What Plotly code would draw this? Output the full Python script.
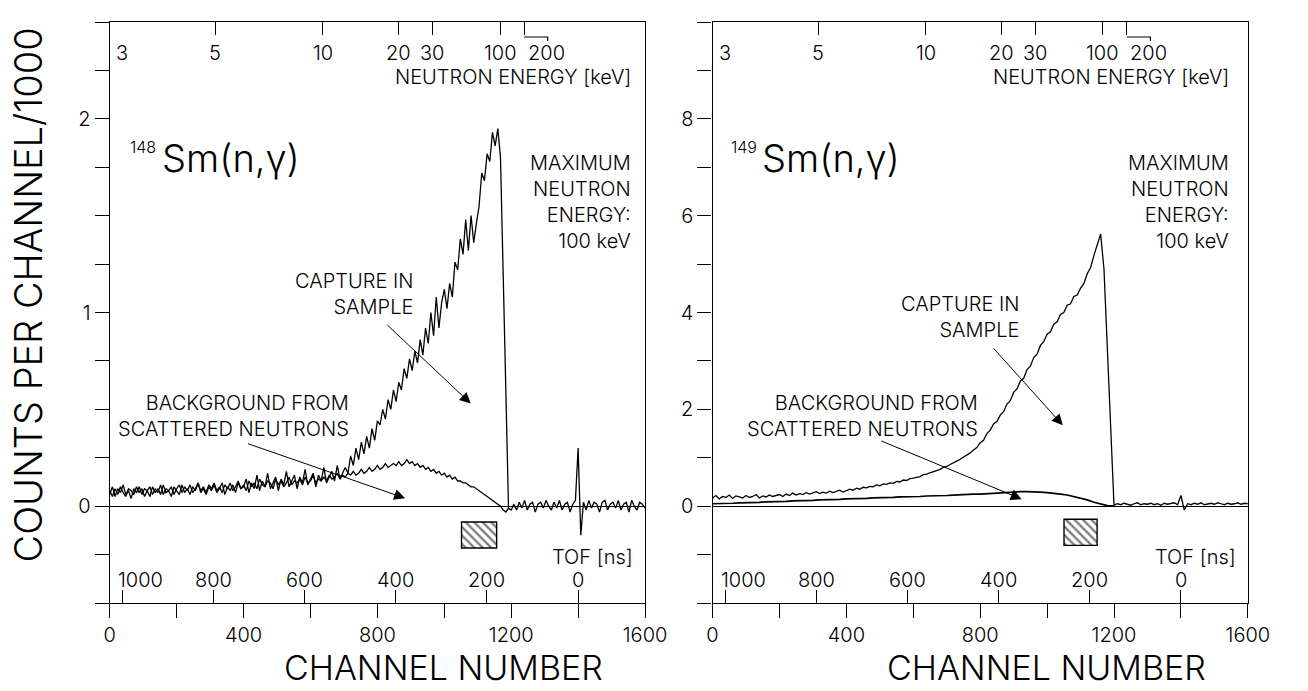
import numpy as np
import plotly.graph_objects as go

W, H = 1308, 691
FONT = "Inter"

# ---------------- data (counts per channel / 1000) ----------------
LEFT_STEP = 8          # channel spacing of the left-panel series
RIGHT_CAP_STEP = 10    # channel spacing of right capture series
RIGHT_BG_STEP = 20     # channel spacing of right background series

# 148Sm : capture in sample, channels 0..1192
left_capture = [
    0.06, 0.10, 0.05, 0.09, 0.07, 0.11, 0.06, 0.08, 0.04, 0.09,
    0.07, 0.10, 0.06, 0.09, 0.08, 0.05, 0.10, 0.07, 0.09, 0.06,
    0.11, 0.07, 0.08, 0.05, 0.10, 0.08, 0.06, 0.11, 0.07, 0.09,
    0.06, 0.10, 0.08, 0.12, 0.07, 0.09, 0.06, 0.10, 0.08, 0.11,
    0.07, 0.09, 0.12, 0.06, 0.10, 0.08, 0.11, 0.07, 0.12, 0.09,
    0.10, 0.14, 0.07, 0.12, 0.09, 0.16, 0.08, 0.13, 0.10, 0.17,
    0.09, 0.12, 0.15, 0.08, 0.14, 0.11, 0.18, 0.10, 0.13, 0.16,
    0.09, 0.15, 0.12, 0.19, 0.11, 0.14, 0.17, 0.10, 0.16, 0.13,
    0.20, 0.12, 0.15, 0.18, 0.13, 0.21, 0.14, 0.17,
    0.20, 0.17, 0.26, 0.21, 0.30, 0.24, 0.33, 0.27, 0.36, 0.30, 0.40, 0.34, 0.44,
    0.42, 0.50, 0.45, 0.55, 0.50, 0.60, 0.54, 0.64, 0.60, 0.71, 0.66, 0.76,
    0.70, 0.80, 0.74, 0.86, 0.78, 0.92, 0.84, 1.00, 0.88, 1.08, 0.92, 1.05, 1.12,
    1.02, 1.15, 1.08, 1.26, 1.22, 1.38, 1.30, 1.48, 1.32, 1.50, 1.36, 1.46,
    1.55, 1.72, 1.68, 1.82, 1.78, 1.93, 1.86, 1.95,
    1.80, 1.20, 0.55, -0.01,
]

# 148Sm : background from scattered neutrons, channels 0..1600
left_background = [
    0.08, 0.05, 0.09, 0.06, 0.10, 0.07, 0.05, 0.09, 0.08, 0.06,
    0.10, 0.07, 0.09, 0.05, 0.08, 0.10, 0.06, 0.09, 0.07, 0.11,
    0.06, 0.09, 0.08, 0.10, 0.06, 0.09, 0.11, 0.07, 0.10, 0.08,
    0.11, 0.07, 0.09, 0.12, 0.08, 0.10, 0.07, 0.11, 0.09, 0.12,
    0.08, 0.10, 0.07, 0.11, 0.09, 0.12, 0.08, 0.10, 0.13, 0.09,
    0.11, 0.08, 0.13, 0.10, 0.12, 0.09, 0.14, 0.11, 0.10, 0.13,
    0.12, 0.09, 0.14, 0.11, 0.13, 0.10, 0.12, 0.15, 0.11, 0.13,
    0.12, 0.14, 0.11, 0.15, 0.12, 0.13, 0.16, 0.12, 0.14, 0.13,
    0.15, 0.13, 0.16, 0.14, 0.15, 0.17, 0.14, 0.16,
    0.15, 0.17, 0.16, 0.18, 0.16, 0.17, 0.19, 0.17, 0.18, 0.20,
    0.18, 0.19, 0.21, 0.19, 0.20, 0.22, 0.20, 0.21, 0.22, 0.21,
    0.23, 0.21, 0.22, 0.24, 0.22,
    0.23, 0.21, 0.22, 0.20, 0.21, 0.19, 0.20, 0.18, 0.19, 0.17,
    0.18, 0.16, 0.17, 0.15, 0.16, 0.14, 0.15, 0.13, 0.13, 0.12,
    0.12, 0.11, 0.10, 0.10, 0.09,
    0.08, 0.07, 0.06, 0.05, 0.04, 0.03, 0.02, 0.01, 0.00, -0.02,
    -0.03, -0.01, -0.02,
    0.01, -0.02, 0.02, -0.01, 0.03, -0.02, 0.01, 0.02, -0.03, 0.01,
    0.02, -0.01, 0.03, 0.00, -0.02, 0.02, -0.01, 0.03, -0.02, 0.01,
    0.02, -0.03, 0.01, 0.03, 0.30, -0.15, 0.02, -0.02, 0.03, -0.01,
    0.02, 0.01, -0.03, 0.02, 0.03, -0.02, 0.01, 0.02, -0.01, 0.03,
    -0.02, 0.01, 0.02, -0.03, 0.03, 0.00, -0.02, 0.02, 0.01, -0.01,
]

# 149Sm : capture in sample, channels 0..1600
right_capture = [
    0.17, 0.22, 0.15, 0.20, 0.18, 0.23, 0.16, 0.21, 0.19, 0.17,
    0.22, 0.18, 0.20, 0.24, 0.17, 0.21, 0.19, 0.23, 0.20, 0.22,
    0.24, 0.20, 0.25, 0.22, 0.27, 0.23, 0.26, 0.24, 0.28, 0.25,
    0.27, 0.30, 0.26, 0.29, 0.27, 0.31, 0.28, 0.30, 0.33, 0.29,
    0.32, 0.35, 0.33, 0.37, 0.35, 0.39, 0.38, 0.41, 0.40, 0.44,
    0.42, 0.46, 0.45, 0.48, 0.47, 0.51, 0.50, 0.54, 0.53, 0.57,
    0.58, 0.60, 0.61, 0.65, 0.66, 0.69, 0.71, 0.74, 0.76, 0.80,
    0.82, 0.86, 0.89, 0.93, 0.97, 1.01, 1.06, 1.10, 1.16, 1.21,
    1.31, 1.36, 1.50, 1.57, 1.70, 1.75, 1.88, 1.95, 2.11, 2.18,
    2.35, 2.42, 2.58, 2.64, 2.82, 2.89, 3.07, 3.14, 3.32, 3.40,
    3.55, 3.60, 3.76, 3.81, 3.96, 4.00, 4.15, 4.18, 4.33, 4.36,
    4.50, 4.60, 4.80, 4.93, 5.18, 5.38, 5.62, 4.90, 3.30, 1.60,
    0.02, 0.05, 0.03, 0.06, 0.04, 0.02, 0.05, 0.07, 0.03, 0.05,
    0.04, 0.06, 0.03, 0.05, 0.02, 0.06, 0.04, 0.05, 0.07, 0.03,
    0.22, -0.08, 0.05, 0.03, 0.06, 0.04, 0.07, 0.03, 0.05, 0.06,
    0.04, 0.07, 0.05, 0.03, 0.06, 0.04, 0.05, 0.07, 0.04, 0.06, 0.05,
]

# 149Sm : background from scattered neutrons, channels 0..1200
right_background = [
    0.05, 0.05, 0.06, 0.06, 0.07, 0.07, 0.08, 0.08, 0.09, 0.09,
    0.10, 0.10, 0.11, 0.11, 0.12, 0.12, 0.13, 0.13, 0.14, 0.14,
    0.15, 0.15, 0.16, 0.16, 0.17, 0.17, 0.18, 0.18, 0.19, 0.19,
    0.20, 0.20, 0.21, 0.21, 0.22, 0.22, 0.23, 0.24, 0.24, 0.25,
    0.25, 0.26, 0.27, 0.28, 0.29, 0.29, 0.30, 0.30, 0.30, 0.29,
    0.28, 0.27, 0.25, 0.23, 0.20, 0.17, 0.13, 0.08, 0.04, 0.01,
    0.00,
]

energy_ticks_kev = [3, 5, 10, 20, 30, 100, 200]
tof_ticks_ns = [1000, 800, 600, 400, 200, 0]
channel_ticks = list(range(0, 1601, 200))
channel_labels = [0, 400, 800, 1200, 1600]
left_y_ticks = [-0.5 + 0.25 * i for i in range(13)]
left_y_labels = [0, 1, 2]
right_y_ticks = list(range(-2, 11))
right_y_labels = [0, 2, 4, 6, 8]

# TOF / energy calibration of the channel scale
FLIGHT_PATH_M = 0.787
TOF_OFFSET_NS = 8.8
CH_PER_NS = 1.362
CH_TOF_ZERO = 1400


def tof_to_ch(t_ns):
    return CH_TOF_ZERO - CH_PER_NS * np.asarray(t_ns, dtype=float)


def energy_to_ch(e_kev):
    t_ns = 72.3 * FLIGHT_PATH_M / np.sqrt(np.asarray(e_kev, dtype=float) * 1e3) * 1e3
    return tof_to_ch(t_ns - TOF_OFFSET_NS)


# ---------------- layout geometry ----------------
LEFT_DOM = [106 / W, 653 / W]
RIGHT_DOM = [722 / W, 1269 / W]
Y_DOM = [1 - 603 / H, 1 - 22 / H]
PX_PER_CH = (653 - 106) / 1600.0


def fx(px):
    return px / W


def fy(py):
    return 1 - py / H


LINE = dict(color="black", width=1.3)
TXT = dict(family=FONT, size=20, color="black", weight=300)
BIG = dict(family=FONT, size=34, color="black", weight=300)
ISO = dict(family=FONT, size=38, color="black", weight=300)

fig = go.Figure()

fig.add_trace(go.Scatter(x=np.arange(len(left_background)) * LEFT_STEP, y=left_background,
                         mode="lines", line=LINE, xaxis="x", yaxis="y", hoverinfo="skip"))
fig.add_trace(go.Scatter(x=np.arange(len(left_capture)) * LEFT_STEP, y=left_capture,
                         mode="lines", line=LINE, xaxis="x", yaxis="y", hoverinfo="skip"))
fig.add_trace(go.Scatter(x=np.arange(len(right_background)) * RIGHT_BG_STEP, y=right_background,
                         mode="lines", line=dict(color="black", width=1.7), xaxis="x2", yaxis="y2",
                         hoverinfo="skip"))
fig.add_trace(go.Scatter(x=np.arange(len(right_capture)) * RIGHT_CAP_STEP, y=right_capture,
                         mode="lines", line=LINE, xaxis="x2", yaxis="y2", hoverinfo="skip"))


def hatch_box(xc, width, y0, y1, xa, ya):
    return go.Bar(x=[xc], y=[y1 - y0], base=[y0], width=[width],
                  marker=dict(color="white", line=dict(color="black", width=1.4),
                              pattern=dict(shape="\\", fgcolor="black", bgcolor="white",
                                           size=6, solidity=0.4)),
                  xaxis=xa, yaxis=ya, hoverinfo="skip")


fig.add_trace(hatch_box(1104, 105, -0.216, -0.082, "x", "y"))
fig.add_trace(hatch_box(1100, 99, -0.81, -0.27, "x2", "y2"))

# empty traces bind the overlay axes
for xa, ya in [("x3", "y"), ("x4", "y2"), ("x5", "y"), ("x6", "y2")]:
    fig.add_trace(go.Scatter(x=[None], y=[None], xaxis=xa, yaxis=ya, hoverinfo="skip"))

tof_ch = [float(c) for c in tof_to_ch(tof_ticks_ns)]
en_ch = [float(c) for c in energy_to_ch(energy_ticks_kev)]

base_x = dict(range=[0, 1600], showline=True, linecolor="black", linewidth=1.3, mirror=True,
              ticks="outside", ticklen=14, tickwidth=1.3, tickcolor="black",
              tickvals=channel_ticks,
              ticktext=[str(c) if c in channel_labels else "" for c in channel_ticks],
              tickfont=dict(family=FONT, size=20, color="black", weight=300),
              showgrid=False, zeroline=False)
tof_x = dict(range=[0, 1600], side="bottom", ticks="inside", ticklen=13, tickwidth=1.3,
             tickcolor="black", tickvals=tof_ch, showticklabels=False, showline=False,
             showgrid=False, zeroline=False)
en_x = dict(range=[0, 1600], side="top", ticks="inside", ticklen=13, tickwidth=1.3,
            tickcolor="black", tickvals=en_ch, showticklabels=False, showline=False,
            showgrid=False, zeroline=False)


def y_axis(rng, ticks, labels, anchor):
    return dict(domain=Y_DOM, anchor=anchor, range=rng, tickvals=ticks,
                ticktext=[(str(int(t)) if (abs(t - round(t)) < 1e-9 and int(round(t)) in labels) else "")
                          for t in ticks],
                showline=True, linecolor="black", linewidth=1.3, mirror=True,
                ticks="outside", ticklen=14, tickwidth=1.3, tickcolor="black",
                tickfont=dict(family=FONT, size=20, color="black", weight=300),
                showgrid=False, zeroline=True, zerolinecolor="black", zerolinewidth=1.3)


annotations = []


def text(t, px, py, xanchor="right", font=TXT, align="right", yanchor="middle", **kw):
    annotations.append(dict(text=t, x=fx(px), y=fy(py), xref="paper", yref="paper",
                            xanchor=xanchor, yanchor=yanchor, align=align, showarrow=False,
                            font=font, **kw))


def arrow(head, tail, xa, ya):
    annotations.append(dict(text="", x=head[0], y=head[1], ax=tail[0], ay=tail[1],
                            xref=xa, yref=ya, axref=xa, ayref=ya, showarrow=True,
                            arrowhead=2, arrowsize=2.2, arrowwidth=1, arrowcolor="black"))


shapes = []

for xa, ya, dx, cap_y, bg_right, cap_right, cap_head, cap_tail, bg_head, bg_tail, iso, \
        tofr, e_right, sup_x in [
    ("x", "y", 0, 0, 353, 418, (1079, 0.53), (825, 0.943), (883, 0.041), (409, 0.325),
     "148", 643, 641, 155),
    ("x2", "y2", 616, 23, 995, 1037, (1047, 1.67), (836, 3.29), (924, 0.145), (500, 1.36),
     "149", 1259, 1252, 769),
]:
    # energy labels along the top
    for e, c in zip(energy_ticks_kev, en_ch):
        shift = 12 if e == 3 else (22 if e == 200 else 0)
        annotations.append(dict(text=str(e), x=max(c, 0), y=fy(53), xref=xa, yref="paper",
                                xanchor="center", yanchor="middle", xshift=shift, showarrow=False,
                                font=TXT))
    c200 = en_ch[energy_ticks_kev.index(200)]
    c_end = c200 + 24 / PX_PER_CH
    shapes.append(dict(type="path", xref=xa, yref="paper",
                       path=f"M {c200},{fy(37)} L {c_end},{fy(37)} L {c_end},{fy(41)}",
                       line=dict(color="black", width=1.2)))
    text("NEUTRON ENERGY [keV]", e_right, 77)
    # TOF labels along the bottom
    for t, c in zip(tof_ticks_ns, tof_ch):
        annotations.append(dict(text=str(t), x=c, y=fy(580), xref=xa, yref="paper",
                                xanchor="center", yanchor="middle",
                                xshift=(18 if t == 1000 else 0), showarrow=False, font=TXT))
    text("TOF [ns]", tofr, 557)
    # reaction label
    text(iso, sup_x, 147, font=dict(family=FONT, size=16, color="black", weight=300))
    text("Sm(n,γ)", sup_x + 2, 158, xanchor="left", align="left", font=ISO)
    text("MAXIMUM<br>NEUTRON<br>ENERGY:<br>100 keV", e_right, 202)
    text("CAPTURE IN<br>SAMPLE", cap_right, 294 + cap_y)
    text("BACKGROUND FROM<br>SCATTERED NEUTRONS", bg_right, 416)
    arrow(cap_head, cap_tail, xa, ya)
    arrow(bg_head, bg_tail, xa, ya)
    text("CHANNEL NUMBER", 447 + dx, 690, xanchor="center", yanchor="bottom", font=BIG)

text("COUNTS PER CHANNEL/1000", 22, 295, xanchor="center", font=ISO, textangle=-90)

fig.update_layout(
    width=W, height=H, autosize=False,
    margin=dict(l=0, r=0, t=0, b=0, pad=0),
    paper_bgcolor="white", plot_bgcolor="white",
    showlegend=False, barmode="overlay",
    xaxis=dict(domain=LEFT_DOM, anchor="y", **base_x),
    xaxis2=dict(domain=RIGHT_DOM, anchor="y2", **base_x),
    xaxis3=dict(overlaying="x", anchor="y", **tof_x),
    xaxis4=dict(overlaying="x2", anchor="y2", **tof_x),
    xaxis5=dict(overlaying="x", anchor="y", **en_x),
    xaxis6=dict(overlaying="x2", anchor="y2", **en_x),
    yaxis=y_axis([-0.5, 2.5], left_y_ticks, left_y_labels, "x"),
    yaxis2=y_axis([-2, 10], right_y_ticks, right_y_labels, "x2"),
    annotations=annotations,
    shapes=shapes,
)

fig.write_html("out.html")
